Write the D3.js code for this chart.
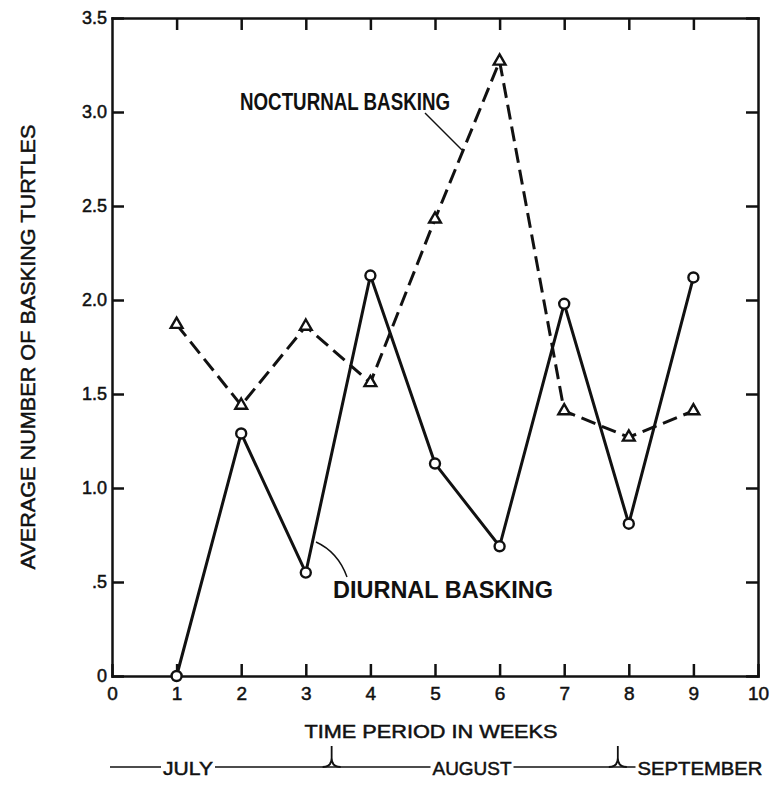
<!DOCTYPE html>
<html lang="en">
    <head>
        <meta charset="UTF-8">
        <title>Basking turtles</title>
        <style>
            body { margin: 0; background: #fff; }
            svg { display: block; font-family: 'Liberation Sans', Arial, sans-serif; }
            .axis path, .axis line { stroke: #111; stroke-width: 2.5; }
            .lab { fill: #111; stroke: #111; stroke-width: 0.5; }
        </style>
    </head>
    <body>
        <div id="chart"></div>
        <script src="https://cdn.jsdelivr.net/npm/d3@7/dist/d3.min.js"></script>
        <script>

            // values
            var weeks     = [1, 2, 3, 4, 5, 6, 7, 8, 9];
            var diurnal   = [0, 1.29, 0.55, 2.13, 1.13, 0.69, 1.98, 0.81, 2.12];
            var nocturnal = [1.87, 1.44, 1.86, 1.56, 2.43, 3.27, 1.41, 1.27, 1.41];
            var xTicks    = [0, 1, 2, 3, 4, 5, 6, 7, 8, 9, 10];
            var yTicks    = [0, 0.5, 1, 1.5, 2, 2.5, 3, 3.5];
            var yLabels   = ['0', '.5', '1.0', '1.5', '2.0', '2.5', '3.0', '3.5'];
            var months      = ['JULY', 'AUGUST', 'SEPTEMBER'];
            var monthBreaks = [3.4, 7.83];   // week where one month ends and the next starts

            var w = 773, h = 789;
            var pL = 112, pR = 758, pT = 18, pB = 676;

            var x = d3.scaleLinear().domain([0, 10]).range([pL, pR]);
            var y = d3.scaleLinear().domain([0, 3.5]).range([pB, pT]);

            const svg = d3.select('#chart').append('svg').attr('width', w).attr('height', h);

            // frame + ticks (ticks all point inward)
            var gx = svg.append('g').attr('class', 'axis').attr('transform', 'translate(0,' + pB + ')')
                .call(d3.axisBottom(x).tickValues(xTicks).tickSize(-12).tickSizeOuter(0).tickPadding(11).tickFormat(d3.format('d')));
            gx.selectAll('text').attr('class', 'lab').style('font-size', '19px');
            svg.append('g').attr('class', 'axis').attr('transform', 'translate(0,' + pT + ')')
                .call(d3.axisTop(x).tickValues(weeks).tickSize(-12).tickSizeOuter(0).tickFormat(''));
            var gy = svg.append('g').attr('class', 'axis').attr('transform', 'translate(' + pL + ',0)')
                .call(d3.axisLeft(y).tickValues(yTicks).tickSize(-12).tickSizeOuter(0).tickPadding(5)
                    .tickFormat((d, i) => yLabels[i]));
            gy.selectAll('text').attr('class', 'lab').style('font-size', '18px');
            svg.append('g').attr('class', 'axis').attr('transform', 'translate(' + pR + ',0)')
                .call(d3.axisRight(y).tickValues(yTicks).tickSize(-12).tickSizeOuter(0).tickFormat(''));
            svg.selectAll('.axis .domain').attr('stroke-linecap', 'square');

            // axis titles
            svg.append('text').attr('class', 'lab')
                .attr('transform', 'translate(27,347) rotate(-90)')
                .attr('text-anchor', 'middle').attr('dominant-baseline', 'central')
                .attr('textLength', 445).attr('lengthAdjust', 'spacingAndGlyphs')
                .style('font-size', '21px')
                .text('AVERAGE NUMBER OF BASKING TURTLES');
            svg.append('text').attr('class', 'lab')
                .attr('x', 431).attr('y', 731)
                .attr('text-anchor', 'middle').attr('dominant-baseline', 'central')
                .attr('textLength', 253).attr('lengthAdjust', 'spacingAndGlyphs')
                .style('font-size', '19px')
                .text('TIME PERIOD IN WEEKS');

            // month bar under the axis
            var my = 767;
            svg.append('line').attr('x1', 110).attr('x2', 636).attr('y1', my).attr('y2', my)
                .style('stroke', '#111').style('stroke-width', 1.6);
            monthBreaks.forEach(function (wk) {
                var bx = x(wk);
                svg.append('path')
                    .attr('d', 'M' + (bx - 9) + ',' + my + ' Q' + bx + ',' + my + ' ' + bx + ',' + (my - 9) +
                               ' L' + bx + ',' + (my - 21) +
                               ' M' + bx + ',' + (my - 9) + ' Q' + bx + ',' + my + ' ' + (bx + 9) + ',' + my)
                    .style('fill', 'none').style('stroke', '#111').style('stroke-width', 1.8);
            });
            var monthPos = [[188, 50], [472, 79], [700, 125]];   // centre x, width
            monthPos.forEach(function (p) {
                svg.append('rect').attr('x', p[0] - p[1] / 2 - 2).attr('y', my - 10)
                    .attr('width', p[1] + 4).attr('height', 20).style('fill', '#fff');
            });
            svg.selectAll('.month').data(months).enter().append('text')
                .attr('class', 'lab')
                .attr('x', (d, i) => monthPos[i][0]).attr('y', my + 1)
                .attr('text-anchor', 'middle').attr('dominant-baseline', 'central')
                .attr('textLength', (d, i) => monthPos[i][1]).attr('lengthAdjust', 'spacingAndGlyphs')
                .style('font-size', '19px')
                .text(d => d);

            // series
            var line = d3.line().x(d => x(d[0])).y(d => y(d[1]));
            var noct = weeks.map((wk, i) => [wk, nocturnal[i]]);
            var diur = weeks.map((wk, i) => [wk, diurnal[i]]);

            svg.append('path').datum(noct).attr('d', line)
                .style('fill', 'none').style('stroke', '#111').style('stroke-width', 3)
                .style('stroke-dasharray', '15,7');
            svg.append('path').datum(diur).attr('d', line)
                .style('fill', 'none').style('stroke', '#111').style('stroke-width', 3);

            var tri = d3.symbol().type(d3.symbolTriangle).size(60);
            svg.selectAll('.tri').data(noct).enter().append('path')
                .attr('class', 'tri').attr('d', tri)
                .attr('transform', d => 'translate(' + x(d[0]) + ',' + y(d[1]) + ')')
                .style('fill', '#fff').style('stroke', '#111').style('stroke-width', 2.4);
            svg.selectAll('.dot').data(diur).enter().append('circle')
                .attr('class', 'dot').attr('r', 5)
                .attr('cx', d => x(d[0])).attr('cy', d => y(d[1]))
                .style('fill', '#fff').style('stroke', '#111').style('stroke-width', 2.4);

            // series labels with leader lines
            svg.append('text')
                .attr('x', 240).attr('y', 102).attr('dominant-baseline', 'central')
                .attr('textLength', 210).attr('lengthAdjust', 'spacingAndGlyphs')
                .style('font-size', '23px').style('font-weight', 'bold').style('fill', '#111')
                .text('NOCTURNAL BASKING');
            svg.append('line').attr('x1', 425).attr('y1', 113).attr('x2', 462).attr('y2', 150)
                .style('stroke', '#111').style('stroke-width', 1.4);

            svg.append('text')
                .attr('x', 333).attr('y', 590).attr('dominant-baseline', 'central')
                .attr('textLength', 220).attr('lengthAdjust', 'spacingAndGlyphs')
                .style('font-size', '23px').style('font-weight', 'bold').style('fill', '#111')
                .text('DIURNAL BASKING');
            svg.append('path').attr('d', 'M316,542 Q338,552 347,577')
                .style('fill', 'none').style('stroke', '#111').style('stroke-width', 1.4);

        </script>
    </body>
</html>
